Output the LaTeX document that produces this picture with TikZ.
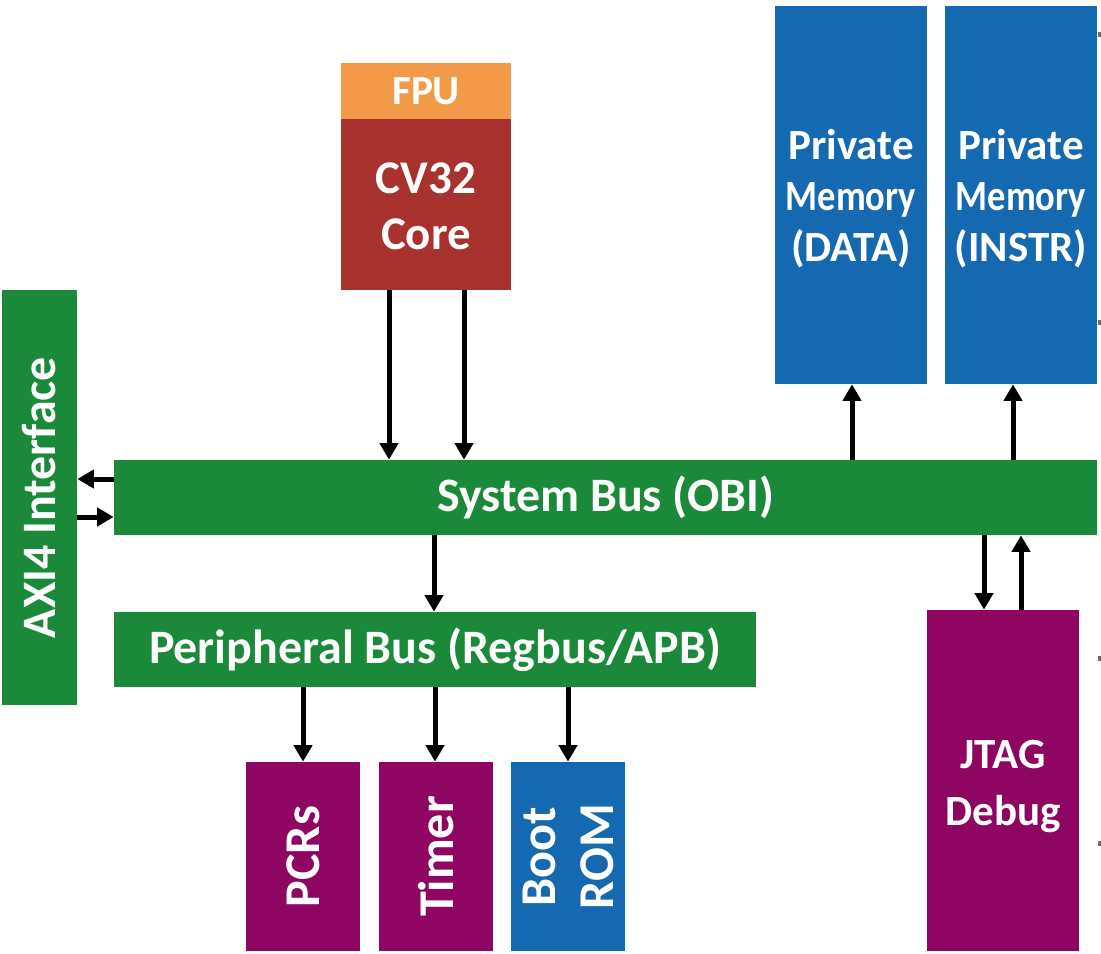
\documentclass[tikz,border=0pt]{standalone}
\usepackage{fontspec}
\setmainfont{Carlito}
\usetikzlibrary{arrows.meta}
\newdimen\pxu \pxu=0.02cm
\definecolor{busgreen}{RGB}{26,137,58}
\definecolor{periphpurple}{RGB}{142,6,98}
\definecolor{memblue}{RGB}{21,105,176}
\definecolor{corered}{RGB}{168,50,46}
\definecolor{fpuorange}{RGB}{243,154,72}
\definecolor{dotgray}{RGB}{110,110,110}
\tikzset{
  block/.style={draw=none, inner sep=0pt, text=white, align=center,
    font=\bfseries\fontsize{24.5}{29}\selectfont},
  bustext/.style={font=\bfseries\fontsize{27.3}{32}\selectfont},
  periphtext/.style={font=\bfseries\fontsize{28.5}{33}\selectfont},
  arr/.style={line width=0.1cm, -{Triangle[width=0.36cm,length=0.33cm]}},
}
\begin{document}
\begin{tikzpicture}[x=0.02cm, y=-0.02cm]
\useasboundingbox (0,0) rectangle (1101,953);
% processor
\node[block, fill=fpuorange, minimum width=170\pxu, minimum height=56\pxu,
  font=\bfseries\fontsize{23.5}{28}\selectfont] (fpu) at (426,91) {FPU};
\node[block, fill=corered, minimum width=170\pxu, minimum height=171\pxu] (core) at (426,204.5) {};
\node[block, font=\bfseries\fontsize{26.7}{32}\selectfont] at ([yshift=-2\pxu]core.center) {CV32\\Core};
% private memories
\node[block, fill=memblue, minimum width=152\pxu, minimum height=378\pxu] (memd) at (851,195) {};
\node[block] at ([yshift=-4\pxu]memd.center) {Private\\\scalebox{0.85}[1]{Memory}\\(DATA)};
\node[block, fill=memblue, minimum width=152\pxu, minimum height=378\pxu] (memi) at (1021,195) {};
\node[block] at ([yshift=-4\pxu]memi.center) {Private\\\scalebox{0.85}[1]{Memory}\\(INSTR)};
% AXI interface
\node[block, fill=busgreen, minimum width=75\pxu, minimum height=415\pxu] (axi) at (39.5,497.5) {};
\node[block, bustext, rotate=90] at (axi.center) {AXI4 Interface};
% buses
\node[block, bustext, fill=busgreen, minimum width=983\pxu, minimum height=75\pxu] (sysbus) at (605.5,497.5) {System Bus (OBI)};
\node[block, bustext, fill=busgreen, minimum width=642\pxu, minimum height=75\pxu] (pbus) at (435,649.5) {Peripheral Bus (Regbus/APB)};
% peripherals
\node[block, fill=periphpurple, minimum width=114\pxu, minimum height=189\pxu] (pcrs) at (303,856.5) {};
\node[block, periphtext, rotate=90] at (pcrs.center) {PCRs};
\node[block, fill=periphpurple, minimum width=114\pxu, minimum height=189\pxu] (timer) at (436,856.5) {};
\node[block, periphtext, rotate=90] at (timer.center) {Timer};
\node[block, fill=memblue, minimum width=114\pxu, minimum height=189\pxu] (bootrom) at (568,856.5) {};
\node[block, periphtext, rotate=90] at (bootrom.center) {Boot\\ROM};
% debug
\node[block, fill=periphpurple, minimum width=152\pxu, minimum height=341\pxu] (jtag) at (1003,780.5) {};
\node[block, font=\bfseries\fontsize{24.5}{32}\selectfont] at ([yshift=-6\pxu]jtag.center) {JTAG\\Debug};
% connector columns
\coordinate (xc1) at (389,0);
\coordinate (xc2) at (464,0);
\coordinate (xmd) at (852,0);
\coordinate (xmi) at (1013,0);
\coordinate (xj1) at (984,0);
\coordinate (xj2) at (1021,0);
\coordinate (xpb) at (434,0);
\coordinate (xp1) at (303,0);
\coordinate (xp2) at (435,0);
\coordinate (xp3) at (568,0);
\coordinate (ya1) at (0,479);
\coordinate (ya2) at (0,517);
% connectors
\draw[arr] (core.south -| xc1) -- (sysbus.north -| xc1);
\draw[arr] (core.south -| xc2) -- (sysbus.north -| xc2);
\draw[arr] (sysbus.north -| xmd) -- (memd.south -| xmd);
\draw[arr] (sysbus.north -| xmi) -- (memi.south -| xmi);
\draw[arr] (sysbus.south -| xj1) -- (jtag.north -| xj1);
\draw[arr] (jtag.north -| xj2) -- (sysbus.south -| xj2);
\draw[arr] (sysbus.south -| xpb) -- (pbus.north -| xpb);
\draw[arr] (pbus.south -| xp1) -- (pcrs.north);
\draw[arr] (pbus.south -| xp2) -- (timer.north -| xp2);
\draw[arr] (pbus.south -| xp3) -- (bootrom.north -| xp3);
\draw[arr] (sysbus.west |- ya1) -- (axi.east |- ya1);
\draw[arr] (axi.east |- ya2) -- (sysbus.west |- ya2);
% marks at the right edge
\foreach \yy in {35,322,658,843}
  \fill[dotgray] (1098,\yy-2.5) rectangle (1101,\yy+2.5);
\end{tikzpicture}
\end{document}
